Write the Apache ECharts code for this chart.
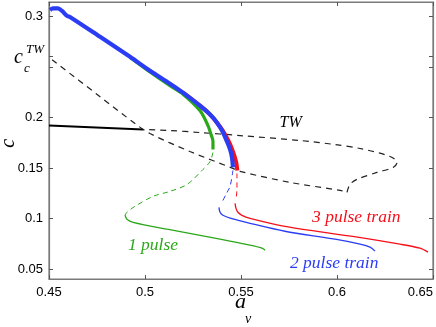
<!DOCTYPE html>
<html>
<head>
<meta charset="utf-8">
<script src="https://cdn.jsdelivr.net/npm/echarts@6/dist/echarts.min.js"></script>
<style>
  html, body { margin: 0; padding: 0; background: #fff; }
  #main { width: 436px; height: 327px; }
</style>
</head>
<body>
<div id="main"></div>
<script>
// axis ticks
var xTicks = [0.45, 0.5, 0.55, 0.6, 0.65];
var yLabelTicks = [0.05, 0.1, 0.15, 0.2, 0.3];
var ccTW = 0.261;
var yTicks = [0.05, 0.1, 0.15, 0.2, 0.25, ccTW, 0.3];

// thick branches
var blueMain = [[0.4505,0.3066],[0.4521,0.3081],[0.4547,0.3081],[0.4568,0.3056],[0.4594,0.3007],[0.4609,0.2997],
  [0.4766,0.2800],[0.4922,0.2602],[0.5026,0.2464],[0.5130,0.2336],[0.5198,0.2247],[0.5286,0.2118],[0.5339,0.2030],
  [0.5375,0.1950],[0.5401,0.1872],[0.5427,0.1763],[0.5443,0.1684],[0.5453,0.1605],[0.5458,0.1506]];
var redMain = [[0.5198,0.2247],[0.5286,0.2118],[0.5339,0.2030],[0.5375,0.1950],[0.5405,0.1872],[0.5437,0.1763],
  [0.5458,0.1664],[0.5474,0.1565],[0.5481,0.1476]];
var greenMain = [[0.4922,0.2596],[0.5026,0.2452],[0.5130,0.2316],[0.5198,0.2232],[0.5286,0.2069],[0.5328,0.1921],
  [0.5344,0.1832],[0.5354,0.1763],[0.5354,0.1684]];

// unstable (dashed) branches
var greenDash = [[0.5354,0.1654],[0.5339,0.1565],[0.5302,0.1486],[0.5219,0.1338],[0.5130,0.1269],[0.5042,0.1220],
  [0.4948,0.1121],[0.4906,0.1062],[0.4896,0.1032]];
var blueDash = [[0.5458,0.1477],[0.5443,0.1319],[0.5422,0.1240],[0.5401,0.1161]];
var redDash = [[0.5479,0.1447],[0.5479,0.1289],[0.5474,0.1190]];

// pulse / pulse train stable branches
var green1 = [[0.4896,0.1032],[0.4906,0.0993],[0.4938,0.0963],[0.5115,0.0894],[0.5391,0.0796],[0.5547,0.0736],
  [0.5609,0.0706],[0.5625,0.0687]];
var blue2 = [[0.5385,0.1111],[0.5391,0.1062],[0.5406,0.1032],[0.5448,0.1002],[0.5547,0.0953],[0.5729,0.0874],
  [0.5990,0.0795],[0.6120,0.0746],[0.6172,0.0716],[0.6198,0.0677]];
var red3 = [[0.5469,0.1151],[0.5474,0.1101],[0.5484,0.1062],[0.5505,0.1032],[0.5547,0.1002],[0.5729,0.0923],
  [0.6073,0.0825],[0.6328,0.0746],[0.6432,0.0706],[0.6474,0.0667]];

// travelling wave
var twSolid = [[0.45,0.1921],[0.499,0.1882]];
var twLower = [[0.4516,0.2573],[0.4766,0.2207],[0.4948,0.1941],[0.5026,0.1842],[0.5234,0.1664],[0.5458,0.1497],
  [0.5495,0.1467],[0.5755,0.1358],[0.6016,0.1279],[0.6052,0.1260]];
var twUpper = [[0.6052,0.1260],[0.6068,0.1339],[0.6104,0.1388],[0.6208,0.1457],[0.6292,0.1506],[0.6313,0.1556],
  [0.6276,0.1615],[0.6120,0.1694],[0.5990,0.1733],[0.5807,0.1773],[0.5495,0.1822],[0.5286,0.1852],[0.5130,0.1872],
  [0.4990,0.1882]];

var BLUE = '#2b3cf5', RED = '#f5101a', GREEN = '#2aa81a';
var SERIF = 'Liberation Serif';

function line(data, color, width, dash, z) {
  return {
    type: 'line',
    data: data,
    showSymbol: false,
    smooth: 0.3,
    z: z || 2,
    animation: false,
    lineStyle: { color: color, width: width, type: dash ? dash : 'solid' }
  };
}

var chart = echarts.init(document.getElementById('main'), null, { renderer: 'canvas' });

var axisLineStyle = { color: '#7a7a7a', width: 1.2 };
var tickStyle = { color: '#555', width: 1 };

var option = {
  animation: false,
  grid: {
    left: 49, right: 3, top: 2, bottom: 48,
    containLabel: false, outerBoundsMode: 'none',
    show: true, borderColor: '#7a7a7a', borderWidth: 1.2, backgroundColor: 'transparent'
  },
  xAxis: [{
    type: 'value', min: 0.45, max: 0.65, interval: 0.05,
    axisLine: { show: true, onZero: false, lineStyle: axisLineStyle },
    axisTick: { inside: true, length: 4, lineStyle: tickStyle },
    axisLabel: { color: '#000', fontSize: 13, fontFamily: 'Liberation Sans', margin: 7, hideOverlap: false,
      alignMaxLabel: 'right' },
    splitLine: { show: false }
  }, {
    type: 'value', position: 'top', min: 0.45, max: 0.65, interval: 0.05,
    axisLine: { show: true, onZero: false, lineStyle: axisLineStyle },
    axisTick: { show: true, inside: true, length: 4, lineStyle: tickStyle },
    axisLabel: { show: false },
    splitLine: { show: false }
  }],
  yAxis: [{
    type: 'value', min: 0.0401, max: 0.3145,
    axisLine: { show: true, onZero: false, lineStyle: axisLineStyle },
    axisTick: { show: true, inside: true, length: 4, lineStyle: tickStyle, customValues: yTicks },
    axisLabel: { color: '#000', fontSize: 13, fontFamily: 'Liberation Sans', margin: 6, customValues: yLabelTicks },
    splitLine: { show: false }
  }, {
    type: 'value', position: 'right', min: 0.0401, max: 0.3145,
    axisLine: { show: true, onZero: false, lineStyle: axisLineStyle },
    axisTick: { show: true, inside: true, length: 4, lineStyle: tickStyle, customValues: yTicks },
    axisLabel: { show: false },
    splitLine: { show: false }
  }],
  series: [
    line(twSolid, '#000', 2, null, 3),
    line(twLower, '#222', 1.2, [6, 5], 3),
    line(twUpper, '#222', 1.2, [6, 5], 3),
    line(greenDash, GREEN, 1, [5, 4]),
    line(blueDash, BLUE, 1, [5, 4]),
    line(redDash, RED, 1, [5, 4]),
    line(green1, GREEN, 1.3),
    line(blue2, BLUE, 1.3),
    line(red3, RED, 1.3),
    line(redMain, RED, 4, null, 4),
    line(greenMain, GREEN, 3.2, null, 4),
    line(blueMain, BLUE, 4.2, null, 5)
  ]
};
chart.setOption(option);

// text labels placed through the axes
function px(a, c) {
  return chart.convertToPixel({ xAxisIndex: 0, yAxisIndex: 0 }, [a, c]);
}
function txt(p, dx, dy, text, font, color, extra) {
  var el = {
    type: 'text', x: p[0] + dx, y: p[1] + dy, z: 10,
    style: { text: text, font: font, fill: color || '#000', align: 'left', verticalAlign: 'middle' }
  };
  if (extra) { for (var k in extra) el[k] = extra[k]; }
  return el;
}
var pc = px(0.45, ccTW);
var pxLabel = px(0.55, 0.0401);
var pyLabel = px(0.45, 0.17);
chart.setOption({
  graphic: [
    txt(pc, -35, 2, 'c', 'italic 20px ' + SERIF),
    txt(pc, -23, -6, 'TW', 'italic 13px ' + SERIF),
    txt(pc, -25, 13, 'c', 'italic 13px ' + SERIF),
    txt(pxLabel, -6, 23, 'a', 'italic 22px ' + SERIF),
    txt(pxLabel, 4, 40, 'v', 'italic 14px ' + SERIF),
    txt(pyLabel, -40, 0, 'c', 'italic 20px ' + SERIF, '#000', { rotation: Math.PI / 2 }),
    txt(px(0.5701, 0.1946), 0, 0, 'TW', 'italic 16px ' + SERIF),
    txt(px(0.4911, 0.0736), 0, 0, '1 pulse', 'italic 17.5px ' + SERIF, GREEN),
    txt(px(0.5755, 0.0553), 0, 0, '2 pulse train', 'italic 17.5px ' + SERIF, BLUE),
    txt(px(0.5870, 0.1016), 0, 0, '3 pulse train', 'italic 17.5px ' + SERIF, RED)
  ]
});
</script>
</body>
</html>
